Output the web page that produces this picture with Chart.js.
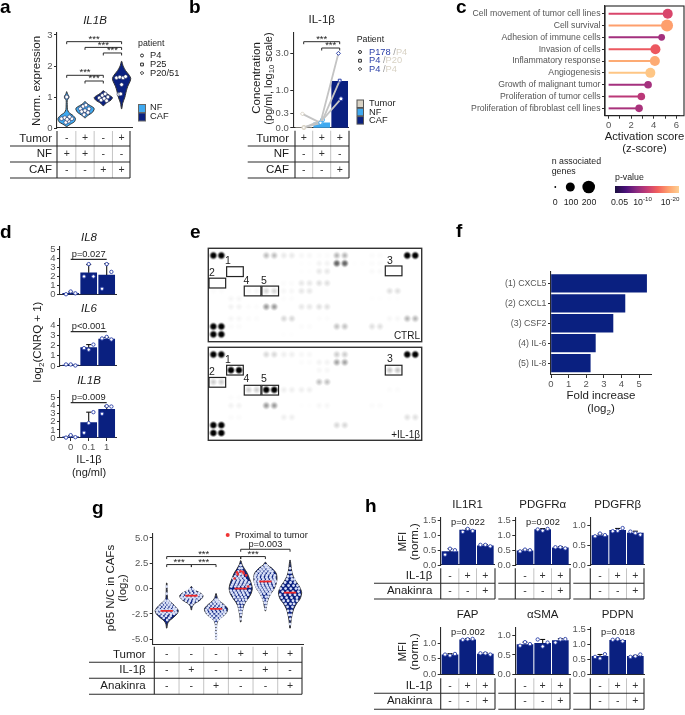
<!DOCTYPE html>
<html>
<head>
<meta charset="utf-8">
<title>IL-1b figure</title>
<script src="https://cdn.jsdelivr.net/npm/chart.js@4"></script>
<style>
html, body { margin: 0; padding: 0; background: #fff; }
#page { position: relative; width: 685px; height: 715px; overflow: hidden; }
canvas { position: absolute; left: 0; top: 0; }
</style>
</head>
<body>
<div id="page"></div>
<script>
// ---------- data ----------

// a
const aLevels = [
  [0.05, 0.12, 0.2, 0.3, 0.4, 0.5, 0.6, 0.75, 0.9, 0.95, 1.0, 1.05, 1.1, 1.17],
  [0.33, 0.4, 0.5, 0.6, 0.65, 0.72, 0.78, 0.85],
  [0.72, 0.8, 0.9, 0.98, 1.05, 1.12, 1.2],
  [0.62, 0.8, 1.0, 1.2, 1.35, 1.5, 1.6, 1.7, 1.85, 2.0, 2.15]
];
const aWidths = [
  [0.02, 0.2, 0.42, 0.48, 0.35, 0.12, 0.04, 0.03, 0.03, 0.1, 0.13, 0.1, 0.04, 0.01],
  [0.02, 0.15, 0.4, 0.5, 0.48, 0.3, 0.12, 0.02],
  [0.02, 0.15, 0.42, 0.5, 0.35, 0.15, 0.02],
  [0.01, 0.06, 0.18, 0.26, 0.34, 0.46, 0.5, 0.42, 0.22, 0.08, 0.01]
];
const aPointsX = [0.72, 1.1, 0.9, 1.28, 0.95, 1.15, 1.02, 1,
  1.75, 1.9, 2.05, 2.22, 1.82, 2.0, 2.16, 1.95,
  2.78, 2.95, 3.1, 3.25, 2.88, 3.05, 3.18,
  3.72, 3.9, 4.08, 4.22, 4.0, 3.85, 3.95];
const aPointsY = [0.3, 0.22, 0.33, 0.3, 0.18, 0.36, 0.28, 1.0,
  0.62, 0.7, 0.74, 0.62, 0.53, 0.56, 0.5, 0.43,
  0.97, 1.05, 1.1, 1.0, 0.9, 0.95, 0.88,
  1.62, 1.64, 1.62, 1.66, 1.4, 1.09, 1.1];

// b, concentrations in pg/ml
const bBars = [0.01, 0.1, 1.38];
const bPatientA = [0.3, 0.1, 3.0];
const bPatientB = [0.01, 0.1, 1.41];
const bPatientC = [0.01, 0.16, 0.72];
const bTicks = [0, 0.3, 1.0, 3.0];

// c
const cTerms = ['Cell movement of tumor cell lines', 'Cell survival', 'Adhesion of immune cells',
  'Invasion of cells', 'Inflammatory response', 'Angiogenesis', 'Growth of malignant tumor',
  'Proliferation of tumor cells', 'Proliferation of fibroblast cell lines'];
const cScores = [5.24, 5.18, 4.7, 4.15, 4.1, 3.7, 3.5, 2.9, 2.7];
const cRadius = [5, 6, 3.4, 5, 5, 5, 3.8, 3.8, 3.8];
const cColors = ['#d9466b', '#fe9f6d', '#a3307e', '#ec5860', '#fdab74', '#fec685', '#a5317e', '#bb3878', '#a9337c'];

// d
const dDoses = ['0', '0.1', '1'];
const il8Bars = [0.15, 2.4, 2.15];
const il8Tops = [0.3, 3.3, 3.4];
const il8Points = [[0.05, 0.35, 0.15], [2.0, 3.35, 2.0], [0.65, 3.35, 2.5]];
const il6Bars = [0.1, 1.8, 2.65];
const il6Tops = [0.15, 2.1, 2.8];
const il6Points = [[0.15, 0.15, 0.05], [1.75, 1.6, 2.1], [2.7, 2.85, 2.6]];
const il1bBars = [0.15, 1.9, 3.55];
const il1bTops = [0.3, 3.2, 3.95];
const il1bPoints = [[0.05, 0.35, 0.1], [0.65, 1.85, 3.2], [3.0, 3.95, 3.9]];

// e, [pair, row, darkness]
const blotCtrl = [
  [0, 0, 1], [3, 0, 0.32], [4, 0, 0.14], [5, 0, 0.06], [6, 0, 0.04], [7, 0, 0.35], [9, 0, 0.04], [11, 0, 1],
  [5, 1, 0.02], [6, 1, 0.09], [7, 1, 0.65], [8, 1, 0.02], [9, 1, 0.04],
  [5, 2, 0.02], [6, 2, 0.15], [9, 2, 0.05],
  [3, 3.5, 0.04], [4, 3.5, 0.04], [5, 3.5, 0.15], [6, 3.5, 0.18],
  [0, 4.5, 0.03], [2, 4.5, 0.06], [3, 4.5, 0.22], [4, 4.5, 0.06], [5, 4.5, 0.15], [10, 4.5, 0.18],
  [1, 5.5, 0.07], [4, 5.5, 0.03], [9, 5.5, 0.02], [10, 5.5, 0.02],
  [1, 6.5, 0.09], [2, 6.5, 0.03], [3, 6.5, 0.45], [5, 6.5, 0.15], [6, 6.5, 0.18],
  [1, 8, 0.07], [2, 8, 0.04], [4, 8, 0.22], [6, 8, 0.03], [10, 8, 0.07], [11, 8, 0.35],
  [0, 9, 1], [1, 9, 0.04], [5, 9, 0.04], [7, 9, 0.3], [9, 9, 0.18],
  [0, 10, 1], [4, 10, 0.02]
];
const blotIl1b = [
  [0, 0, 1], [3, 0, 0.22], [4, 0, 0.11], [5, 0, 0.06], [7, 0, 0.26], [11, 0, 1],
  [5, 1, 0.04], [6, 1, 0.09], [7, 1, 0.42],
  [1, 2, 1], [6, 2, 0.06], [10, 2, 0.3],
  [0, 3.5, 0.26], [6, 3.5, 0.3],
  [2, 4.5, 0.26], [3, 4.5, 1], [4, 4.5, 0.11], [5, 4.5, 0.11], [10, 4.5, 0.04],
  [1, 5.5, 0.03],
  [1, 6.5, 0.09], [3, 6.5, 0.45], [5, 6.5, 0.02], [6, 6.5, 0.07], [9, 6.5, 0.04],
  [1, 8, 0.04], [4, 8, 0.11], [11, 8, 0.18],
  [0, 9, 1], [7, 9, 0.22],
  [0, 10, 1]
];

// f
const fLabels = ['(1) CXCL5', '(2) CXCL1', '(3) CSF2', '(4) IL-6', '(5) IL-8'];
const fValues = [5.43, 4.2, 3.52, 2.52, 2.23];

// g
const gLevels = [
  [-3.9, -3.5, -3.2, -2.9, -2.5, -2.2, -1.9, -1.5, -1.2, -1, -0.7, -0.3, 0.1, 0.55],
  [-2.1, -1.8, -1.5, -1.2, -0.9, -0.7, -0.5, -0.3, -0.1, 0.2],
  [-5, -4.5, -4, -3.5, -3.1, -2.8, -2.4, -2, -1.6, -1.2, -0.9, -0.5],
  [-3.3, -2.8, -2.2, -1.8, -1.4, -1, -0.5, 0, 0.5, 1, 1.5, 2, 2.4, 2.75],
  [-2.2, -1.8, -1.4, -1, -0.5, 0, 0.5, 1, 1.5, 2, 2.3, 2.6],
  [-3.9, -3.4, -3, -2.5, -2, -1.5, -1, -0.4, 0.2, 0.7, 1.2, 1.7, 2.2, 2.8]
];
const gWidths = [
  [0.01, 0.03, 0.1, 0.25, 0.42, 0.47, 0.4, 0.24, 0.1, 0.04, 0.025, 0.02, 0.015, 0.01],
  [0.01, 0.03, 0.12, 0.32, 0.45, 0.47, 0.4, 0.25, 0.08, 0.01],
  [0.015, 0.02, 0.02, 0.03, 0.1, 0.25, 0.42, 0.47, 0.33, 0.14, 0.05, 0.01],
  [0.01, 0.03, 0.07, 0.11, 0.18, 0.3, 0.42, 0.47, 0.43, 0.35, 0.27, 0.14, 0.05, 0.01],
  [0.01, 0.04, 0.07, 0.12, 0.22, 0.36, 0.44, 0.47, 0.44, 0.27, 0.1, 0.01],
  [0.01, 0.03, 0.05, 0.09, 0.15, 0.26, 0.41, 0.47, 0.38, 0.24, 0.13, 0.07, 0.04, 0.01]
];
const gMedians = [-2.2, -0.7, -2.0, 0, 0.7, -0.4];
// cells per violin: [value, [offsets from the centre]]
const gCells = [
  [[-3.1, [0.02]], [-2.9, [-0.12, 0.1]], [-2.7, [-0.2, -0.03, 0.16]], [-2.5, [-0.3, -0.14, 0.02, 0.18, 0.3]],
   [-2.35, [-0.38, -0.22, -0.08, 0.1, 0.26, 0.38]], [-2.15, [-0.4, -0.27, -0.12, 0.04, 0.2, 0.34]],
   [-2, [-0.33, -0.18, -0.02, 0.12, 0.28, 0.38]], [-1.8, [-0.28, -0.12, 0.02, 0.17, 0.3]],
   [-1.6, [-0.2, -0.06, 0.08, 0.2]], [-1.4, [-0.12, 0.02, 0.13]], [-1.2, [-0.05, 0.06]], [-0.5, [0]], [0.2, [0]]],
  [[-1.6, [0.01]], [-1.4, [-0.1, 0.08]], [-1.2, [-0.22, -0.06, 0.1, 0.22]], [-1, [-0.34, -0.18, -0.03, 0.13, 0.3]],
   [-0.85, [-0.4, -0.26, -0.1, 0.06, 0.22, 0.38]], [-0.65, [-0.36, -0.2, -0.05, 0.12, 0.28, 0.4]],
   [-0.45, [-0.3, -0.14, 0.02, 0.18, 0.3]], [-0.25, [-0.18, -0.03, 0.14]], [-0.05, [-0.06, 0.06]]],
  [[-4.9, [0]], [-4.6, [0.01]], [-4.3, [-0.01]], [-4, [0.01]], [-3.7, [0]], [-3.4, [0]], [-3.1, [-0.06, 0.07]],
   [-2.9, [-0.16, 0.02, 0.17]], [-2.7, [-0.24, -0.08, 0.1, 0.24]], [-2.5, [-0.32, -0.16, 0.02, 0.18, 0.32]],
   [-2.3, [-0.38, -0.22, -0.06, 0.1, 0.26, 0.38]], [-2.1, [-0.4, -0.26, -0.1, 0.06, 0.22, 0.36]],
   [-1.9, [-0.34, -0.18, -0.02, 0.14, 0.3]], [-1.7, [-0.28, -0.12, 0.04, 0.2, 0.3]],
   [-1.5, [-0.2, -0.05, 0.1, 0.2]], [-1.3, [-0.1, 0.03, 0.13]], [-1.1, [-0.02, 0.06]]],
  [[-3, [0]], [-2.6, [0.01]], [-2.3, [-0.03, 0.03]], [-2, [-0.05, 0.06]], [-1.7, [-0.08, 0.05]], [-1.4, [-0.1, 0.03, 0.13]],
   [-1.1, [-0.18, -0.04, 0.1, 0.22]], [-0.85, [-0.26, -0.1, 0.05, 0.2]], [-0.6, [-0.3, -0.16, 0, 0.14, 0.3]],
   [-0.4, [-0.36, -0.2, -0.05, 0.1, 0.26]], [-0.2, [-0.4, -0.26, -0.1, 0.06, 0.2, 0.36]],
   [0.2, [-0.38, -0.22, -0.08, 0.08, 0.24, 0.38]], [0.4, [-0.34, -0.18, -0.02, 0.14, 0.28]],
   [0.6, [-0.3, -0.14, 0.02, 0.18, 0.34]], [0.8, [-0.26, -0.1, 0.06, 0.22]], [1, [-0.3, -0.14, 0, 0.16]],
   [1.2, [-0.22, -0.06, 0.08]], [1.45, [-0.16, -0.02, 0.08]], [1.7, [-0.1, 0.04]], [2, [-0.05, 0.04]], [2.3, [0]]],
  [[-2, [0]], [-1.7, [0.02]], [-1.4, [-0.03, 0.04]], [-1.1, [-0.08, 0.06]], [-0.8, [-0.14, 0.02, 0.12]],
   [-0.5, [-0.18, -0.04, 0.12, 0.2]], [-0.3, [-0.24, -0.1, 0.05, 0.2]], [-0.1, [-0.28, -0.14, 0, 0.14, 0.28]],
   [0.1, [-0.34, -0.2, -0.05, 0.1, 0.25]], [0.3, [-0.38, -0.24, -0.1, 0.06, 0.2, 0.36]],
   [0.5, [-0.4, -0.26, -0.12, 0.02, 0.18, 0.34]], [0.7, [-0.42, -0.28, -0.14, 0.02, 0.16, 0.3, 0.42]],
   [0.9, [-0.38, -0.24, -0.08, 0.08, 0.24, 0.38]], [1.1, [-0.42, -0.28, -0.12, 0.04, 0.2, 0.36]],
   [1.3, [-0.4, -0.26, -0.1, 0.06, 0.22, 0.38]], [1.5, [-0.36, -0.2, -0.05, 0.12, 0.28]],
   [1.7, [-0.28, -0.14, 0.02, 0.18, 0.28]], [1.9, [-0.2, -0.06, 0.1, 0.2]], [2.1, [-0.12, 0.02, 0.12]], [2.3, [-0.02, 0.05]]],
  [[-3.5, [0]], [-3, [0.01]], [-2.6, [-0.04, 0.05]], [-2.2, [-0.08, 0.06]], [-1.8, [-0.1, 0.1]], [-1.5, [-0.18, 0.02, 0.16]],
   [-1.2, [-0.26, -0.08, 0.12, 0.28]], [-0.9, [-0.34, -0.14, 0.06, 0.28]], [-0.6, [-0.4, -0.2, 0, 0.2, 0.38]],
   [-0.3, [-0.3, -0.1, 0.12, 0.34]], [0, [-0.38, -0.18, 0.03, 0.24, 0.36]], [0.3, [-0.28, -0.06, 0.14, 0.3]],
   [0.6, [-0.2, 0.02, 0.2]], [0.9, [-0.12, 0.08, 0.18]], [1.2, [-0.08, 0.06]], [1.6, [-0.04, 0.04]], [2, [0]]]
];
const gProximalX = [4.0, 3.85, 4.12, 4.22, 3.75, 3.88, 4.3, 4.1];
const gProximalY = [1.7, 1.6, 1.5, 1.3, 1.0, 1.4, 0.2, 1.65];

// h
const hTitles = ['IL1R1', 'PDGFR\u03b1', 'PDGFR\u03b2', 'FAP', '\u03b1SMA', 'PDPN'];
const hBars = [[0.45, 1.18, 0.65], [0.48, 1.2, 0.58], [0.75, 0.88, 0.81], [0.62, 1.1, 0.65], [0.77, 0.8, 0.87], [0.6, 1.13, 0.6]];
const hTops = [[0.55, 1.22, 0.69], [0.52, 1.23, 0.62], [0.79, 0.93, 0.86], [0.66, 1.14, 0.68], [0.83, 0.9, 0.92], [0.66, 1.17, 0.63]];
const hPoints = [
  [[0.35, 0.55, 0.5], [1.12, 1.22, 1.15], [0.68, 0.68, 0.63]],
  [[0.46, 0.52, 0.5], [1.2, 1.16, 1.22], [0.6, 0.6, 0.56]],
  [[0.73, 0.8, 0.76], [0.86, 0.87, 0.94], [0.85, 0.81, 0.77]],
  [[0.63, 0.6, 0.65], [1.1, 1.12, 1.13], [0.67, 0.67, 0.63]],
  [[0.74, 0.83, 0.78], [0.9, 0.72, 0.82], [0.82, 0.9, 0.91]],
  [[0.58, 0.53, 0.67], [1.15, 1.17, 1.1], [0.58, 0.6, 0.66]]
];
const hTickSets = [[0, 0.5, 1, 1.5], [0, 0.5, 1, 1.5], [0, 0.5, 1], [0, 0.5, 1], [0, 0.5, 1], [0, 0.5, 1, 1.5]];
const hPValues = ['p=0.022', 'p=0.002', '', 'p=0.002', '', 'p=0.018'];

// ---------- drawing helpers ----------
const W = 685, H = 715;
const FONT = '"Liberation Sans", Arial, sans-serif';
const NAVY = '#0a2080', SKY = '#3fa9f0', BEIGE = '#d8d2c4', BLUE = '#2a3fa8';
const INK = '#1c1c1c', TICK = '#555555', LINE = '#2b2b2b';
Chart.defaults.font.family = FONT;

function font(size, style) { return (style ? style + ' ' : '') + size + 'px ' + FONT; }

function drawText(ctx, o) {
  const parts = Array.isArray(o.t) ? o.t : [{ s: o.t }];
  const size = o.size || 11;
  ctx.save();
  ctx.translate(o.x, o.y);
  if (o.rot) ctx.rotate(o.rot * Math.PI / 180);
  ctx.textBaseline = 'middle';
  ctx.textAlign = 'left';
  let total = 0;
  parts.forEach(p => {
    ctx.font = font(p.sub || p.sup ? size * 0.7 : size, o.style);
    p.w = ctx.measureText(p.s).width;
    total += p.w;
  });
  let x = o.align === 'left' ? 0 : o.align === 'right' ? -total : -total / 2;
  parts.forEach(p => {
    ctx.font = font(p.sub || p.sup ? size * 0.7 : size, o.style);
    ctx.fillStyle = p.color || o.color || INK;
    ctx.fillText(p.s, x, p.sub ? size * 0.3 : p.sup ? -size * 0.35 : 0);
    x += p.w;
  });
  ctx.restore();
}

function drawMark(ctx, kind, x, y, r) {
  ctx.beginPath();
  if (kind === 'circle') ctx.arc(x, y, r, 0, Math.PI * 2);
  if (kind === 'square') ctx.rect(x - r, y - r, r * 2, r * 2);
  if (kind === 'diamond') { ctx.moveTo(x, y - r * 1.3); ctx.lineTo(x + r * 1.3, y); ctx.lineTo(x, y + r * 1.3); ctx.lineTo(x - r * 1.3, y); ctx.closePath(); }
  ctx.fillStyle = '#fff';
  ctx.strokeStyle = LINE;
  ctx.lineWidth = 1;
  ctx.fill();
  ctx.stroke();
}

// the +/- grid under a plot, marks sit on the plot's own x scale
function drawTable(ctx, X, t) {
  ctx.lineWidth = 1;
  ctx.strokeStyle = '#c4c4c4';
  t.cols.slice(0, -1).forEach(c => {
    const px = X.getPixelForValue(c + 0.5);
    ctx.beginPath(); ctx.moveTo(px, t.top); ctx.lineTo(px, t.lines[t.lines.length - 1]); ctx.stroke();
  });
  ctx.strokeStyle = LINE;
  ctx.lineWidth = 1.1;
  [t.axis, t.right].forEach(px => {
    ctx.beginPath(); ctx.moveTo(px, t.top); ctx.lineTo(px, t.lines[t.lines.length - 1]); ctx.stroke();
  });
  t.lines.forEach(py => {
    ctx.beginPath(); ctx.moveTo(t.left, py); ctx.lineTo(t.right, py); ctx.stroke();
  });
  t.rows.forEach((row, i) => {
    const y0 = i === 0 ? t.top : t.lines[i - 1];
    const y = (y0 + t.lines[i]) / 2;
    if (t.labelX) drawText(ctx, { t: row.label, x: t.labelX, y: y, align: 'right', size: t.labelSize || 11.5 });
    row.marks.forEach((m, j) => {
      drawText(ctx, { t: m, x: X.getPixelForValue(t.cols[j]), y: y, size: 10.5, color: '#333' });
    });
  });
}

function drawDeco(chart, d) {
  const ctx = chart.ctx, X = chart.scales.x, Y = chart.scales.y;
  ctx.save();
  (d.rects || []).forEach(r => {
    if (r.fill) { ctx.fillStyle = r.fill; ctx.fillRect(r.x, r.y, r.w, r.h); }
    if (r.stroke) { ctx.strokeStyle = r.stroke; ctx.lineWidth = r.lw || 1; ctx.strokeRect(r.x, r.y, r.w, r.h); }
  });
  (d.boxes || []).forEach(b => {
    const x1 = X.getPixelForValue(b.x1), x2 = X.getPixelForValue(b.x2);
    const y1 = Y.getPixelForValue(b.y1), y2 = Y.getPixelForValue(b.y2);
    ctx.strokeStyle = '#222'; ctx.lineWidth = 1.2;
    ctx.strokeRect(x1, y1, x2 - x1, y2 - y1);
  });
  (d.brackets || []).forEach(b => {
    const x1 = X.getPixelForValue(b.x1), x2 = X.getPixelForValue(b.x2), y = Y.getPixelForValue(b.y);
    const tick = b.tick === undefined ? 2.5 : b.tick;
    ctx.strokeStyle = LINE; ctx.lineWidth = b.lw || 1;
    ctx.beginPath();
    ctx.moveTo(x1, y + tick); ctx.lineTo(x1, y); ctx.lineTo(x2, y); ctx.lineTo(x2, y + tick);
    ctx.stroke();
    if (b.label) drawText(ctx, { t: b.label, x: (x1 + x2) / 2, y: y + (b.dy || -2.5), size: b.size || 9.5 });
  });
  if (d.table) drawTable(ctx, X, d.table);
  (d.circles || []).forEach(c => {
    ctx.fillStyle = c.color || '#000';
    ctx.beginPath(); ctx.arc(c.x, c.y, c.r, 0, Math.PI * 2); ctx.fill();
  });
  (d.marks || []).forEach(m => drawMark(ctx, m.kind, m.x, m.y, m.r));
  if (d.gradient) {
    const g = d.gradient;
    const grad = ctx.createLinearGradient(g.x, 0, g.x + g.w, 0);
    g.stops.forEach((c, i) => grad.addColorStop(i / (g.stops.length - 1), c));
    ctx.fillStyle = grad;
    ctx.fillRect(g.x, g.y, g.w, g.h);
  }
  (d.texts || []).forEach(t => drawText(ctx, t));
  ctx.restore();
}

// every panel is its own chart; the axes fill the page margins so the plot area lands on page pixels
function addChart(s, datasets, deco) {
  const canvas = document.createElement('canvas');
  canvas.width = W; canvas.height = H;
  canvas.style.width = W + 'px'; canvas.style.height = H + 'px';
  document.getElementById('page').appendChild(canvas);
  const noPad = a => { a.paddingTop = a.paddingBottom = a.paddingLeft = a.paddingRight = 0; };
  return new Chart(canvas.getContext('2d'), {
    type: s.type || 'scatter',
    data: { datasets: datasets },
    options: {
      responsive: false,
      animation: false,
      indexAxis: s.indexAxis || 'x',
      layout: { padding: { left: 0, top: s.t, right: W - s.r, bottom: 0 } },
      plugins: { legend: { display: false }, tooltip: { enabled: false } },
      scales: {
        x: {
          type: 'linear', min: s.xMin, max: s.xMax, offset: false,
          afterFit: a => { a.height = H - s.b; noPad(a); },
          afterBuildTicks: a => { a.ticks = (s.xTicks || []).map(v => ({ value: v })); },
          ticks: {
            autoSkip: false, maxRotation: 0, padding: 1, color: TICK, font: { size: s.tickSize || 9.5 },
            callback: (v, i) => (s.xLabels ? s.xLabels[i] : v)
          },
          grid: { offset: false, drawOnChartArea: false, tickLength: s.xTicks ? 3 : 0, tickColor: LINE, tickWidth: 1 },
          border: { display: s.showAxes !== false, color: LINE, width: 1.1 }
        },
        y: {
          type: 'linear', min: s.yMin, max: s.yMax, reverse: !!s.reverse, offset: false,
          afterFit: a => { a.width = s.l; noPad(a); },
          afterBuildTicks: a => { a.ticks = (s.yTicks || []).map(v => ({ value: v })); },
          ticks: {
            autoSkip: false, padding: 1.5, color: TICK, font: { size: s.yTickSize || s.tickSize || 9.5 },
            callback: (v, i) => (s.yLabels ? s.yLabels[i] : v)
          },
          grid: { offset: false, drawOnChartArea: false, tickLength: s.yTicks ? 3 : 0, tickColor: LINE, tickWidth: 1 },
          border: { display: s.showAxes !== false, color: LINE, width: 1.1 }
        }
      }
    },
    plugins: [{ id: 'deco', afterDraw: ch => drawDeco(ch, deco || {}) }]
  });
}

// plot rectangle plus the pixel position of category 1 and of the base value gives the scale limits
function frame(l, r, t, b, c1, step, base, perUnit) {
  return { l: l, r: r, t: t, b: b,
    xMin: 1 - (c1 - l) / step, xMax: 1 + (r - c1) / step,
    yMin: base, yMax: base + (b - t) / perUnit };
}

function violin(cat, levels, widths, color) {
  const right = levels.map((y, i) => ({ x: cat + widths[i], y: y }));
  const left = levels.map((y, i) => ({ x: cat - widths[i], y: y })).reverse();
  return { showLine: true, fill: 'shape', data: right.concat(left, [right[0]]), backgroundColor: color,
    borderColor: '#333', borderWidth: 1, pointRadius: 0, tension: 0.25, clip: false, order: 5 };
}

function bars(values, colors, thick) {
  return { type: 'bar', data: values.map((v, i) => ({ x: i + 1, y: v })), backgroundColor: colors,
    barThickness: thick, order: 6 };
}

function errorLines(values, tops) {
  return values.map((v, i) => ({ showLine: true, data: [{ x: i + 1, y: v }, { x: i + 1, y: tops[i] }],
    borderColor: '#111', borderWidth: 1.1, pointStyle: 'line', pointRadius: [0, 2.5], pointBorderColor: '#111',
    pointBorderWidth: 1.1, clip: false, order: 3 }));
}

function replicateDots(points, spread) {
  const data = [];
  points.forEach((group, i) => group.forEach((v, j) => data.push({ x: i + 1 + spread[j], y: v })));
  return { data: data, pointRadius: 1.7, pointBackgroundColor: '#fff',
    pointBorderColor: BLUE, pointBorderWidth: 0.9, clip: false, order: 1 };
}

// ---------- a ----------
{
  const s = frame(57, 132, 33, 128, 66.7, 18.3, 0, 31);
  s.yTicks = [0, 1, 2, 3];
  const ds = aLevels.map((lv, i) => violin(i + 1, lv, aWidths[i], i < 2 ? SKY : NAVY));
  ds.push({ data: aPointsX.map((x, i) => ({ x: x, y: aPointsY[i] })), pointRadius: 1.9, pointBackgroundColor: '#fff',
    pointBorderColor: '#1c2a5c', pointBorderWidth: 0.6, clip: false, order: 1 });
  addChart(s, ds, {
    brackets: [
      { x1: 1, x2: 4, y: 2.785, label: '***' }, { x1: 2, x2: 4, y: 2.6, label: '***' }, { x1: 3, x2: 4, y: 2.42, label: '***' },
      { x1: 1, x2: 3, y: 1.7, label: '***' }, { x1: 2, x2: 3, y: 1.516, label: '***' }
    ],
    table: { cols: [1, 2, 3, 4], left: 10, axis: 57, right: 130, top: 131, lines: [146, 162, 178], labelX: 52,
      rows: [{ label: 'Tumor', marks: ['-', '+', '-', '+'] }, { label: 'NF', marks: ['+', '+', '-', '-'] }, { label: 'CAF', marks: ['-', '-', '+', '+'] }] },
    rects: [
      { x: 138.5, y: 104.5, w: 7, h: 8, fill: SKY, stroke: '#666' },
      { x: 138.5, y: 113, w: 7, h: 8, fill: NAVY, stroke: '#666' }
    ],
    marks: [{ kind: 'circle', x: 142, y: 55.5, r: 1.5 }, { kind: 'square', x: 142, y: 64.5, r: 1.4 }, { kind: 'diamond', x: 142, y: 73, r: 1.3 }],
    texts: [
      { t: 'a', x: 0, y: 8, align: 'left', size: 19, style: 'bold', color: '#000' },
      { t: 'IL1B', x: 95, y: 20.5, size: 11.5, style: 'italic' },
      { t: 'Norm. expression', x: 37, y: 81, rot: -90, size: 11.5 },
      { t: 'patient', x: 138, y: 44, align: 'left', size: 8.8 },
      { t: 'P4', x: 150, y: 55.5, align: 'left', size: 9.3 },
      { t: 'P25', x: 150, y: 64.5, align: 'left', size: 9.3 },
      { t: 'P20/51', x: 150, y: 73, align: 'left', size: 9.3 },
      { t: 'NF', x: 150, y: 107.5, align: 'left', size: 9.3 },
      { t: 'CAF', x: 150, y: 116, align: 'left', size: 9.3 }
    ]
  });
}

// ---------- b ----------
{
  const toLog = v => Math.log10(v + 1);
  const s = frame(293.3, 348, 32.7, 128, 303.7, 18, 0, 124);
  s.yTicks = bTicks.map(toLog);
  s.yLabels = bTicks.map(v => v.toFixed(1));
  const patient = (vals, style, dx) => ({
    showLine: true, data: vals.map((v, i) => ({ x: i + 1 + dx[i], y: toLog(v) })), borderColor: '#c4c4c4', borderWidth: 1.8,
    pointStyle: style, pointRadius: 2, pointBackgroundColor: '#fff', pointBorderWidth: 1,
    pointBorderColor: [BEIGE, SKY, BLUE], clip: false, order: 2
  });
  const ds = [
    bars(bBars.map(toLog), [BEIGE, SKY, NAVY], 16),
    patient(bPatientA, 'rectRot', [-0.07, -0.07, -0.07]),
    patient(bPatientB, 'rect', [0, -0.02, 0]),
    patient(bPatientC, 'circle', [0.02, 0.04, 0.07])
  ];
  addChart(s, ds, {
    brackets: [{ x1: 1, x2: 3, y: 0.696, label: '***' }, { x1: 2, x2: 3, y: 0.645, label: '***' }],
    table: { cols: [1, 2, 3], left: 247.7, axis: 295, right: 349, top: 130.7, lines: [146, 162, 178], labelX: 289,
      rows: [{ label: 'Tumor', marks: ['+', '+', '+'] }, { label: 'NF', marks: ['-', '+', '-'] }, { label: 'CAF', marks: ['-', '-', '+'] }] },
    rects: [
      { x: 357, y: 100, w: 6.5, h: 7.5, fill: BEIGE, stroke: '#555' },
      { x: 357, y: 108.3, w: 6.5, h: 7.5, fill: SKY, stroke: '#555' },
      { x: 357, y: 116.6, w: 6.5, h: 7.5, fill: NAVY, stroke: '#555' }
    ],
    marks: [{ kind: 'circle', x: 360, y: 52, r: 1.5 }, { kind: 'square', x: 360, y: 60.7, r: 1.4 }, { kind: 'diamond', x: 360, y: 69, r: 1.3 }],
    texts: [
      { t: 'b', x: 189, y: 8, align: 'left', size: 19, style: 'bold', color: '#000' },
      { t: 'IL-1\u03b2', x: 321.7, y: 20, size: 11.5 },
      { t: 'Concentration', x: 256.7, y: 78, rot: -90, size: 11.5 },
      { t: [{ s: '(pg/ml, log' }, { s: '10', sub: true }, { s: ' scale)' }], x: 268.5, y: 78.5, rot: -90, size: 11 },
      { t: 'Patient', x: 356.7, y: 39.5, align: 'left', size: 8.8 },
      { t: [{ s: 'P178', color: BLUE }, { s: ' /', color: '#999' }, { s: 'P4', color: BEIGE }], x: 369, y: 52, align: 'left', size: 9.3 },
      { t: [{ s: 'P4', color: BLUE }, { s: ' /', color: '#999' }, { s: 'P20', color: BEIGE }], x: 369, y: 60.7, align: 'left', size: 9.3 },
      { t: [{ s: 'P4', color: BLUE }, { s: ' /', color: '#999' }, { s: 'P4', color: BEIGE }], x: 369, y: 69, align: 'left', size: 9.3 },
      { t: 'Tumor', x: 369, y: 103.7, align: 'left', size: 9.3 },
      { t: 'NF', x: 369, y: 112, align: 'left', size: 9.3 },
      { t: 'CAF', x: 369, y: 120.3, align: 'left', size: 9.3 }
    ]
  });
}

// ---------- c ----------
{
  const s = { l: 605, r: 684, t: 6, b: 115.7, xMin: -0.32, xMax: 6.24, yMin: 0.35, yMax: 9.62, reverse: true };
  s.xTicks = [0, 1, 2, 3, 4, 5, 6];
  s.xLabels = ['0', '', '2', '', '4', '', '6'];
  s.yTicks = cTerms.map((t, i) => i + 1);
  s.yLabels = cTerms;
  s.yTickSize = 8.7;
  const ds = cScores.map((v, i) => ({
    showLine: true, data: [{ x: 0, y: i + 1 }, { x: v, y: i + 1 }], borderColor: cColors[i], borderWidth: 2,
    pointRadius: [0, cRadius[i]], pointBackgroundColor: cColors[i], pointBorderWidth: 0, clip: false
  }));
  addChart(s, ds, {
    rects: [{ x: 605, y: 6, w: 79, h: 109.7, stroke: '#222', lw: 1.1 }],
    circles: [{ x: 555.3, y: 187, r: 0.9 }, { x: 570.3, y: 187, r: 4.5 }, { x: 588.7, y: 187, r: 6.3 }],
    gradient: { x: 615, y: 186, w: 64, h: 7, stops: ['#1b1040', '#4a1079', '#8a2a80', '#c43c75', '#f1605d', '#fe9f6d', '#fecf92'] },
    texts: [
      { t: 'c', x: 456, y: 8, align: 'left', size: 19, style: 'bold', color: '#000' },
      { t: 'Activation score', x: 644.5, y: 137, size: 11.3 },
      { t: '(z-score)', x: 644.5, y: 149, size: 11.3 },
      { t: 'n associated', x: 551.7, y: 162, align: 'left', size: 8.8 },
      { t: 'genes', x: 551.7, y: 172, align: 'left', size: 8.8 },
      { t: '0', x: 555.3, y: 202.5, size: 8.8 }, { t: '100', x: 571, y: 202.5, size: 8.8 }, { t: '200', x: 589, y: 202.5, size: 8.8 },
      { t: 'p-value', x: 615, y: 177.5, align: 'left', size: 8.8 },
      { t: '0.05', x: 619.5, y: 202.5, size: 8.8 },
      { t: [{ s: '10' }, { s: '-10', sup: true }], x: 642.5, y: 202.5, size: 8.8 },
      { t: [{ s: '10' }, { s: '-20', sup: true }], x: 670, y: 202.5, size: 8.8 }
    ]
  });
}

// ---------- d ----------
function dosePlot(s, vals, tops, points, deco) {
  const ds = [bars(vals, NAVY, 16)].concat(errorLines(vals, tops), [replicateDots(points, [-0.26, 0, 0.26])]);
  return addChart(s, ds, deco);
}
{
  const s1 = frame(60, 116.7, 247, 294.7, 70.7, 18, 0, 9.13);
  s1.yTicks = [0, 1, 2, 3, 4, 5];
  dosePlot(s1, il8Bars, il8Tops, il8Points, {
    brackets: [{ x1: 1, x2: 3, y: 3.87, tick: 0, lw: 1.2, label: 'p=0.027', dy: -5, size: 9.3 }],
    texts: [
      { t: 'd', x: 0, y: 233, align: 'left', size: 19, style: 'bold', color: '#000' },
      { t: 'IL8', x: 89, y: 237.7, size: 11.5, style: 'italic' },
      { t: [{ s: 'log' }, { s: '2', sub: true }, { s: '(CNRQ + 1)' }], x: 38, y: 342, rot: -90, size: 11.5 }
    ]
  });
  const s2 = frame(60, 116.7, 319, 366, 70.7, 18, 0, 10.2);
  s2.yTicks = [0, 1, 2, 3, 4];
  dosePlot(s2, il6Bars, il6Tops, il6Points, {
    brackets: [{ x1: 1, x2: 3, y: 3.37, tick: 0, lw: 1.2, label: 'p<0.001', dy: -5.5, size: 9.3 }],
    texts: [{ t: 'IL6', x: 89, y: 309, size: 11.5, style: 'italic' }]
  });
  const s3 = frame(60, 116.7, 390.7, 438, 70.7, 18, 0, 8.07);
  s3.yTicks = [0, 1, 2, 3, 4, 5];
  s3.xTicks = [1, 2, 3];
  s3.xLabels = dDoses;
  dosePlot(s3, il1bBars, il1bTops, il1bPoints, {
    brackets: [{ x1: 1, x2: 3, y: 4.38, tick: 0, lw: 1.2, label: 'p=0.009', dy: -5, size: 9.3 }],
    texts: [
      { t: 'IL1B', x: 89, y: 380.7, size: 11.5, style: 'italic' },
      { t: 'IL-1\u03b2', x: 89, y: 460, size: 11 },
      { t: '(ng/ml)', x: 89, y: 472.5, size: 11 }
    ]
  });
}

// ---------- e ----------
const spotCache = {};
function spot(level) {
  if (!spotCache[level]) {
    const c = document.createElement('canvas');
    c.width = c.height = 10;
    const g = c.getContext('2d');
    const rg = g.createRadialGradient(5, 5, level * 2, 5, 5, 4.2);
    rg.addColorStop(0, 'rgba(0,0,0,' + Math.pow(level, 1.2) + ')');
    rg.addColorStop(1, 'rgba(0,0,0,0)');
    g.fillStyle = rg;
    g.fillRect(0, 0, 10, 10);
    spotCache[level] = c;
  }
  return spotCache[level];
}
function blot(l, r, t, b, list, boxes, texts) {
  const pairGap = 0.454;
  const s = { l: l, r: r, t: t, b: b, xMin: -0.285, xMax: 11.82, yMin: -0.91, yMax: 10.93, reverse: true, showAxes: false };
  const data = [], styles = [];
  list.forEach(d => {
    data.push({ x: d[0], y: d[1] }, { x: d[0] + pairGap, y: d[1] });
    styles.push(spot(d[2]), spot(d[2]));
  });
  addChart(s, [{ data: data, pointStyle: styles, pointRadius: 5, clip: false }], {
    rects: [{ x: l, y: t, w: r - l, h: b - t, stroke: '#333', lw: 1.4 }],
    boxes: boxes, texts: texts
  });
}
const pairBox = (p, row) => ({ x1: p - 0.245, x2: p + 0.7, y1: row - 0.62, y2: row + 0.62 });
blot(208.3, 421.7, 248.3, 341.7, blotCtrl,
  [pairBox(1, 2.05), pairBox(0, 3.5), pairBox(10, 1.95), pairBox(2, 4.5), pairBox(3, 4.5)],
  [
    { t: 'e', x: 190, y: 233, align: 'left', size: 19, style: 'bold', color: '#000' },
    { t: '1', x: 228, y: 261.5, size: 10.5 }, { t: '2', x: 212, y: 273, size: 10.5 }, { t: '3', x: 390, y: 261, size: 10.5 },
    { t: '4', x: 246.5, y: 281, size: 10.5 }, { t: '5', x: 264, y: 281, size: 10.5 },
    { t: 'CTRL', x: 420, y: 336, align: 'right', size: 10 }
  ]);
blot(208.3, 421.7, 347.3, 440.3, blotIl1b,
  [pairBox(1, 2), pairBox(0, 3.55), pairBox(10, 2), pairBox(2, 4.55), pairBox(3, 4.55)],
  [
    { t: '1', x: 228, y: 360, size: 10.5 }, { t: '2', x: 212, y: 372, size: 10.5 }, { t: '3', x: 390, y: 359, size: 10.5 },
    { t: '4', x: 246.5, y: 379.5, size: 10.5 }, { t: '5', x: 264, y: 379.5, size: 10.5 },
    { t: '+IL-1\u03b2', x: 420, y: 435, align: 'right', size: 10 }
  ]);

// ---------- f ----------
{
  const s = { l: 551, r: 651.7, t: 271.7, b: 375, xMin: 0, xMax: 5.72, yMin: 0.42, yMax: 5.59, reverse: true, type: 'bar', indexAxis: 'y' };
  s.xTicks = [0, 1, 2, 3, 4, 5];
  s.yTicks = [1, 2, 3, 4, 5];
  s.yLabels = fLabels;
  s.yTickSize = 8.8;
  addChart(s, [{ data: fValues.map((v, i) => ({ x: v, y: i + 1 })), backgroundColor: NAVY, barThickness: 17.6 }], {
    texts: [
      { t: 'f', x: 456, y: 232, align: 'left', size: 19, style: 'bold', color: '#000' },
      { t: 'Fold increase', x: 601, y: 395.7, size: 11.5 },
      { t: [{ s: '(log' }, { s: '2', sub: true }, { s: ')' }], x: 601, y: 409, size: 11.5 }
    ]
  });
}

// ---------- g ----------
{
  const s = frame(152.7, 304, 533.3, 644.3, 166.7, 24.67, -5.5, 10.13);
  s.yTicks = [-5, -2.5, 0, 2.5, 5];
  s.yLabels = ['-5.0', '-2.5', '0.0', '2.5', '5.0'];
  const ds = gLevels.map((lv, i) => violin(i + 1, lv, gWidths[i], NAVY));
  const cells = [];
  gCells.forEach((rows, i) => rows.forEach(r => r[1].forEach(off => cells.push({ x: i + 1 + off, y: r[0] }))));
  ds.push({ data: cells, pointRadius: 1.4, pointBackgroundColor: '#dbe2f8', pointBorderWidth: 0, clip: false, order: 4 });
  ds.push({ data: gProximalX.map((x, i) => ({ x: x, y: gProximalY[i] })), pointRadius: 1.3, pointBackgroundColor: '#f03535', pointBorderWidth: 0, clip: false, order: 3 });
  gMedians.forEach((m, i) => ds.push({ showLine: true, data: [{ x: i + 0.75, y: m }, { x: i + 1.25, y: m }], borderColor: '#f02828', borderWidth: 1.8, pointRadius: 0, clip: false, order: 1 }));
  addChart(s, ds, {
    brackets: [
      { x1: 1, x2: 4, y: 3.16, label: '***' }, { x1: 1, x2: 2, y: 2.37, label: '***' }, { x1: 2, x2: 3, y: 2.37, label: '***' },
      { x1: 4, x2: 5, y: 3.16, label: '***' }, { x1: 4, x2: 6, y: 3.88, label: 'p=0.003', dy: -5, size: 9.3 }
    ],
    table: { cols: [1, 2, 3, 4, 5, 6], left: 89, axis: 154.3, right: 302, top: 646.7, lines: [662.3, 678.3, 694.3], labelX: 145.7,
      rows: [{ label: 'Tumor', marks: ['-', '-', '-', '+', '+', '+'] }, { label: 'IL-1\u03b2', marks: ['-', '+', '-', '-', '+', '-'] }, { label: 'Anakinra', marks: ['-', '-', '+', '-', '-', '+'] }] },
    circles: [{ x: 227.7, y: 535, r: 2, color: '#f03535' }],
    texts: [
      { t: 'g', x: 92, y: 509, align: 'left', size: 19, style: 'bold', color: '#000' },
      { t: 'p65 N/C in CAFs', x: 110.7, y: 588, rot: -90, size: 11.5 },
      { t: [{ s: '(log' }, { s: '2', sub: true }, { s: ')' }], x: 122.5, y: 588, rot: -90, size: 11.5 },
      { t: 'Proximal to tumor', x: 235, y: 535.5, align: 'left', size: 9.3 }
    ]
  });
}

// ---------- h ----------
{
  const cols = [
    { l: 440.7, r: 495, c1: 450, left: 374, right: 495 },
    { l: 515.3, r: 570, c1: 525, left: 498.3, right: 570 },
    { l: 590.3, r: 644, c1: 600, left: 573.3, right: 644 }
  ];
  const rowsY = [
    { t: 517.3, b: 565, title: 505.3, p: 522.7, top: 568.3, lines: [583.3, 599], yt: 541.7 },
    { t: 627.3, b: 674.3, title: 615, p: 632.7, top: 678.3, lines: [693.3, 709.3], yt: 651.7 }
  ];
  const perUnit = [29.6, 29.6, 39.3, 31.3, 38.7, 30];
  hBars.forEach((vals, i) => {
    const col = cols[i % 3], row = rowsY[i < 3 ? 0 : 1];
    const s = frame(col.l, col.r, row.t, row.b, col.c1, 17.67, 0, perUnit[i]);
    s.yTicks = hTickSets[i];
    s.yLabels = hTickSets[i].map(v => v.toFixed(1));
    const ds = [bars(vals, NAVY, 16)].concat(errorLines(vals, hTops[i]), [replicateDots(hPoints[i], [-0.28, 0, 0.28])]);
    const texts = [{ t: hTitles[i], x: col.c1 + 17.67, y: row.title, size: 11.5 }];
    if (hPValues[i]) texts.push({ t: hPValues[i], x: col.c1 + 17.9, y: row.p, size: 9.3 });
    const first = i % 3 === 0;
    if (first) {
      texts.push({ t: 'MFI', x: 403.3, y: row.yt, rot: -90, size: 11.5 }, { t: '(norm.)', x: 415, y: row.yt, rot: -90, size: 11.5 });
    }
    if (i === 0) texts.push({ t: 'h', x: 365, y: 507, align: 'left', size: 19, style: 'bold', color: '#000' });
    addChart(s, ds, {
      table: { cols: [1, 2, 3], left: col.left, axis: col.l, right: col.right, top: row.top, lines: row.lines, labelX: first ? 432.3 : 0,
        rows: [{ label: 'IL-1\u03b2', marks: ['-', '+', '+'] }, { label: 'Anakinra', marks: ['-', '-', '+'] }] },
      texts: texts
    });
  });
}
</script>
</body>
</html>
